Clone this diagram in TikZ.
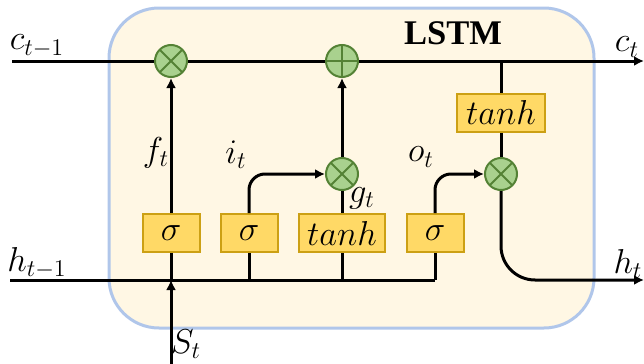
\documentclass[tikz,border=0pt]{standalone}
\usepackage{amsmath,amssymb}
\usepackage{fontspec}
\usepackage{tikz}
\usetikzlibrary{positioning, arrows.meta, calc}
\newfontfamily\titlefont{Liberation Serif}
\definecolor{cellfill}{RGB}{255,247,228}
\definecolor{cellline}{RGB}{176,198,234}
\definecolor{gatefill}{RGB}{255,217,102}
\definecolor{gateline}{RGB}{204,160,20}
\definecolor{opfill}{RGB}{169,209,142}
\definecolor{opline}{RGB}{84,130,53}

\begin{document}
\begin{tikzpicture}[x=0.5pt, y=-0.5pt, font=\LARGE,
      cell/.style={draw=cellline, line width=1.5pt, fill=cellfill, rounded corners=25pt, minimum width=242.5pt, minimum height=160pt},
      gate/.style={draw=gateline, line width=1pt, fill=gatefill, minimum width=28.5pt, minimum height=19pt, inner sep=0pt},
      mult/.style={circle, draw=opline, fill=opfill, line width=1pt, minimum size=16pt, inner sep=0pt,
        path picture={\draw[opline, line width=1pt] (path picture bounding box.north west)--(path picture bounding box.south east)
          (path picture bounding box.north east)--(path picture bounding box.south west);}},
      add/.style={circle, draw=opline, fill=opfill, line width=1pt, minimum size=16pt, inner sep=0pt,
        path picture={\draw[opline, line width=1pt] (path picture bounding box.north)--(path picture bounding box.south)
          (path picture bounding box.east)--(path picture bounding box.west);}},
      wire/.style={line width=1.5pt, black},
      arr/.style={-{Latex[length=5pt, width=5pt]}, line width=1.5pt, black}]
    \useasboundingbox (0,0) rectangle (644,364);
    \node[cell] (cell) at (351.5,168) {};
    \node[font=\titlefont\LARGE\bfseries] (title) at (453,33) {LSTM};

    % gates
    \node[gate] (sg1) at (171,233) {$\sigma$};
    \node[gate] (sg2) at (249,233) {$\sigma$};
    \node[gate, minimum width=43pt] (th1) at (342,233) {$tanh$};
    \node[gate] (sg3) at (435,233) {$\sigma$};
    \node[gate, minimum width=44pt] (th2) at (501,113) {$tanh$};

    % pointwise ops
    \node[mult] (fmul) at (171,61) {};
    \node[add] (cadd) at (342,61) {};
    \node[mult] (gmul) at (342,174) {};
    \node[mult] (omul) at (501,174) {};

    \coordinate (cin) at (12,61);
    \coordinate (cout) at (644,61);
    \coordinate (tap) at (501,61);
    \coordinate (hin) at (10,280);
    \coordinate (hend) at (435,280);
    \coordinate (hout) at (644,280);
    \coordinate (sin) at (171,364);

    % cell state
    \draw[wire] (cin) -- (fmul);
    \draw[wire] (fmul) -- (cadd);
    \draw[arr] (cadd) -- (cout);
    \draw[wire] (tap) -- (th2);
    \draw[wire] (th2) -- (omul);

    % hidden state and input
    \draw[wire] (hin) -- (hend);
    \draw[wire] (sg1) -- (sg1 |- hin);
    \draw[wire] (sg2) -- (sg2 |- hin);
    \draw[wire] (th1) -- (th1 |- hin);
    \draw[wire] (sg3) -- (hend);
    \draw[arr] (sin) -- (sin |- hin);

    % gate outputs
    \draw[arr] (sg1) -- (fmul);
    \draw[arr, rounded corners=8pt] (sg2.north) |- (gmul);
    \draw[wire] (th1) -- (gmul);
    \draw[arr] (gmul) -- (cadd);
    \draw[arr, rounded corners=8pt] (sg3.north) |- (omul);
    \draw[arr, rounded corners=17pt] (omul) |- (hout);

    % labels
    \node (lcin) at (37,46) {$c_{t-1}$};
    \node (lhin) at (37,263) {$h_{t-1}$};
    \node (lcout) at (627,47) {$c_t$};
    \node (lhout) at (628,264) {$h_t$};
    \node (lst) at (186,344) {$S_t$};
    \node (lf) at (156,153) {$f_t$};
    \node (li) at (236,155) {$i_t$};
    \node (lg) at (362,198) {$g_t$};
    \node (lo) at (421,157) {$o_t$};
  \end{tikzpicture}
\end{document}
